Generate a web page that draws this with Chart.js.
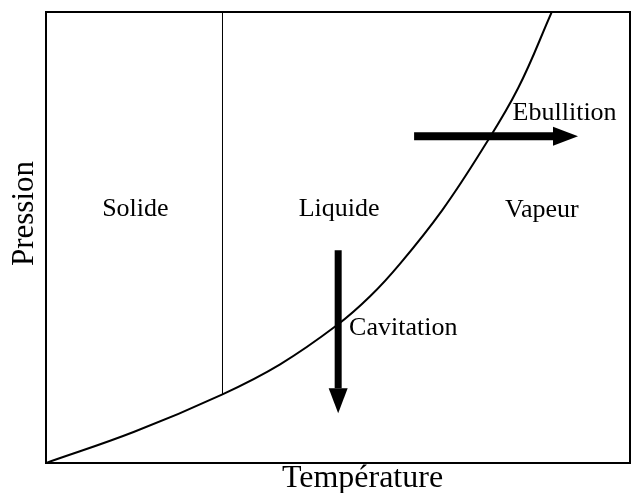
<!DOCTYPE html>
<html>
<head>
<meta charset="utf-8">
<script src="https://cdn.jsdelivr.net/npm/chart.js@4/dist/chart.umd.min.js"></script>
<style>
  html, body { margin: 0; padding: 0; background: #fff; }
  #wrap { width: 639px; height: 493px; }
</style>
</head>
<body>
<div id="wrap"><canvas id="c" width="639" height="493"></canvas></div>
<script>
// courbe de vaporisation
const curveT = [0, 15.11, 30.22, 40.09, 49.80, 55.50, 60.64, 67.83, 74.62, 80.83, 86.6];
const curveP = [0, 6.92, 15.23, 21.88, 30.53, 36.96, 44.21, 56.03, 69.34, 83.08, 100];

// ligne solide / liquide
const fusionT = [30.22, 30.22];
const fusionP = [15.23, 100];

// fleches (le dernier point = base de la pointe)
const ebulT = [63.03, 86.82];
const ebulP = [72.44, 72.44];
const cavT = [50.03, 50.03];
const cavP = [47.16, 16.56];

const labels = ["Solide", "Liquide", "Vapeur", "Ebullition", "Cavitation"];
const labelT = [15.3, 50.2, 84.9, 79.9, 51.9];
const labelP = [54.7, 54.7, 54.6, 76.1, 28.3];
const labelAlign = ["center", "center", "center", "left", "left"];

const xTitle = "Température";
const yTitle = "Pression";

const pts = (xs, ys) => xs.map((x, i) => ({ x, y: ys[i] }));

const phasePlugin = {
    id: "phase",
    afterDatasetsDraw(chart) {
        const { ctx, scales } = chart;
        const ca = chart.chartArea;
        ctx.save();
        // pointes de fleche
        chart.data.datasets.forEach(ds => {
            if (!ds.arrow) return;
            const d = ds.data;
            const a = d[d.length - 2], b = d[d.length - 1];
            const x0 = scales.x.getPixelForValue(a.x), y0 = scales.y.getPixelForValue(a.y);
            const x1 = scales.x.getPixelForValue(b.x), y1 = scales.y.getPixelForValue(b.y);
            const ang = Math.atan2(y1 - y0, x1 - x0);
            ctx.save();
            ctx.translate(x1, y1);
            ctx.rotate(ang);
            ctx.beginPath();
            ctx.moveTo(25, 0);
            ctx.lineTo(0, -9.5);
            ctx.lineTo(0, 9.5);
            ctx.closePath();
            ctx.fillStyle = "#000";
            ctx.fill();
            ctx.restore();
        });
        // cadre
        ctx.lineWidth = 2;
        ctx.strokeStyle = "#000";
        ctx.strokeRect(ca.left, ca.top, ca.right - ca.left, ca.bottom - ca.top);
        // textes
        ctx.fillStyle = "#000";
        ctx.textBaseline = "alphabetic";
        ctx.font = "26px 'Liberation Serif'";
        labels.forEach((t, i) => {
            ctx.textAlign = labelAlign[i];
            ctx.fillText(t, scales.x.getPixelForValue(labelT[i]), scales.y.getPixelForValue(labelP[i]));
        });
        // titres des axes
        ctx.textAlign = "center";
        ctx.font = "32px 'Liberation Serif'";
        ctx.fillText(xTitle, 362.5, 487);
        ctx.font = "31px 'Liberation Serif'";
        ctx.translate(33, 213.5);
        ctx.rotate(-Math.PI / 2);
        ctx.fillText(yTitle, 0, 0);
        ctx.restore();
    }
};

new Chart(document.getElementById("c"), {
    type: "scatter",
    data: {
        datasets: [
            { data: pts(curveT, curveP), showLine: true, borderColor: "#000", borderWidth: 2, pointRadius: 0, tension: 0.4 },
            { data: pts(fusionT, fusionP), showLine: true, borderColor: "#000", borderWidth: 1, pointRadius: 0 },
            { data: pts(ebulT, ebulP), showLine: true, borderColor: "#000", borderWidth: 8, pointRadius: 0, arrow: true },
            { data: pts(cavT, cavP), showLine: true, borderColor: "#000", borderWidth: 7, pointRadius: 0, arrow: true }
        ]
    },
    options: {
        responsive: false,
        animation: false,
        layout: { padding: { top: 12, right: 9, left: 46, bottom: 30 } },
        plugins: { legend: { display: false }, tooltip: { enabled: false } },
        scales: {
            x: {
                type: "linear", min: 0, max: 100,
                ticks: { display: false },
                grid: { display: false, drawTicks: false },
                border: { display: false }
            },
            y: {
                type: "linear", min: 0, max: 100,
                ticks: { display: false },
                grid: { display: false, drawTicks: false },
                border: { display: false }
            }
        }
    },
    plugins: [phasePlugin]
});
</script>
</body>
</html>
